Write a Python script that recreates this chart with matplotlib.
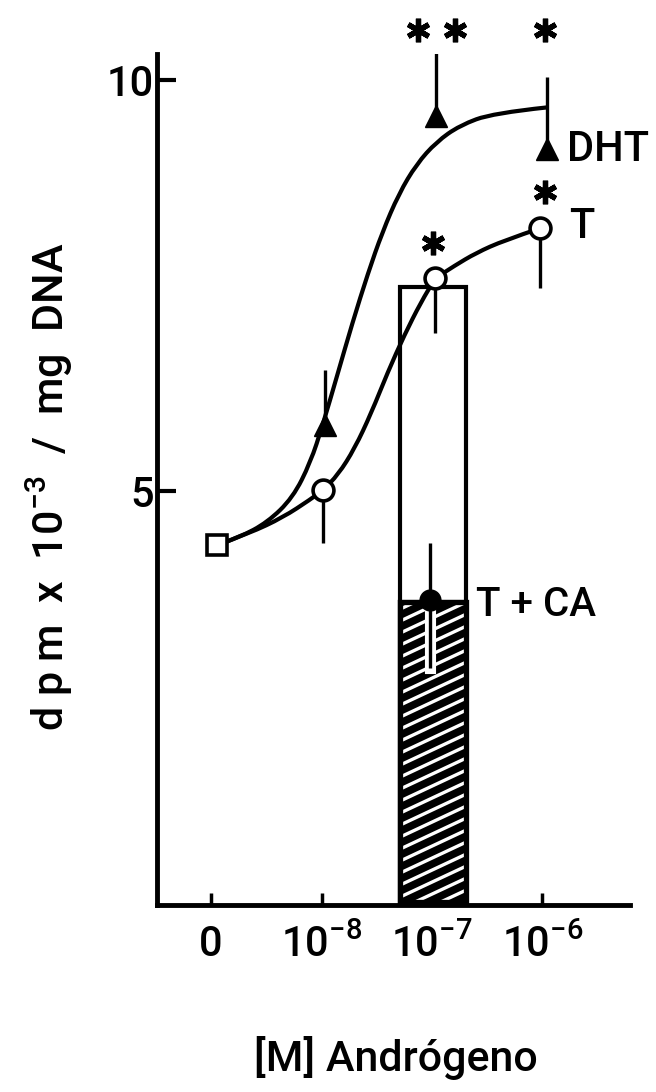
import numpy as np
import matplotlib
matplotlib.use("Agg")
import matplotlib.pyplot as plt
from matplotlib.lines import Line2D
from matplotlib.path import Path
from matplotlib.patches import PathPatch

plt.rcParams['font.family'] = ['Roboto', 'DejaVu Sans']
plt.rcParams['font.weight'] = 'medium'
plt.rcParams['mathtext.default'] = 'regular'

# ---- data ----
dose_ticks = [0, 1, 2, 3]
dose_labels = ['0', '$10^{-8}$', '$10^{-7}$', '$10^{-6}$']

ctrl_x = 0.05
ctrl_y = 4.34

t_x = [1.01, 2.03, 2.98]
t_y = [5.01, 7.59, 8.20]
t_err = [0.64, 0.67, 0.73]

dht_x = [1.03, 2.04, 3.04]
dht_y = [5.80, 9.56, 9.16]
dht_err = [0.67, 0.85, 0.88]

ca_x = 1.98
ca_y = 3.67
ca_err_lo = 0.82
ca_err_hi = 0.70

bar_x = 2.01
bar_width = 0.6
bar_t = 7.48
bar_ca = 3.65

# fitted curves
dht_curve_x = [0.05, 0.26, 0.51, 0.74, 0.90, 1.01, 1.14, 1.28, 1.42,
               1.55, 1.70, 1.86, 2.04, 2.25, 2.55, 3.04]
dht_curve_y = [4.34, 4.44, 4.62, 4.92, 5.35, 5.80, 6.40, 7.05, 7.65,
               8.15, 8.62, 8.98, 9.25, 9.45, 9.60, 9.67]
t_curve_x = [0.05, 0.35, 0.65, 0.90, 1.01, 1.15, 1.30, 1.45, 1.60,
             1.75, 1.90, 2.03, 2.20, 2.40, 2.65, 2.98]
t_curve_y = [4.34, 4.49, 4.68, 4.90, 5.01, 5.20, 5.52, 5.95, 6.45,
             6.90, 7.30, 7.59, 7.74, 7.90, 8.05, 8.20]

# significance stars (x, y)
star_x = [1.87, 2.21, 3.02, 2.01, 3.02]
star_y = [10.61, 10.61, 10.61, 8.02, 8.64]


def smooth_path(xs, ys):
    # quadratic bezier through midpoints, points act as control points
    pts = np.column_stack([xs, ys])
    verts = [pts[0]]
    codes = [Path.MOVETO]
    for i in range(1, len(pts) - 1):
        mid = (pts[i] + pts[i + 1]) / 2
        if i == len(pts) - 2:
            mid = pts[i + 1]
        verts += [pts[i], mid]
        codes += [Path.CURVE3, Path.CURVE3]
    return Path(verts, codes)


# ---- figure ----
W, H = 656, 1092
fig = plt.figure(figsize=(W / 100, H / 100), dpi=100)
ax = fig.add_axes([157 / W, 1 - 905 / H, (630 - 157) / W, (905 - 54) / H])
ax.set_xlim(-0.489, 3.792)
ax.set_ylim(-0.036, 10.32)

for s in ['top', 'right']:
    ax.spines[s].set_visible(False)
for s in ['left', 'bottom']:
    ax.spines[s].set_linewidth(3.5)

ax.set_yticks([5, 10])
ax.set_yticklabels(['5', '10'])
ax.set_xticks(dose_ticks)
ax.set_xticklabels(dose_labels)
ax.tick_params(axis='y', direction='in', length=14, width=3, pad=2, labelsize=30)
ax.tick_params(axis='x', direction='in', length=9, width=2.5, pad=14, labelsize=30)

# open bar (T) and hatched bar (T + CA)
ax.bar(bar_x, bar_t, width=bar_width, facecolor='white', edgecolor='black',
       linewidth=3, zorder=1)
hb = ax.bar(bar_x, bar_ca, width=bar_width, facecolor='black', edgecolor='black',
            linewidth=3, zorder=2)[0]
x0, x1 = bar_x - bar_width / 2, bar_x + bar_width / 2
slope = 0.63
for b in np.arange(-slope * bar_width, bar_ca + 0.2, 0.146):
    ln = Line2D([x0, x1], [b, b + slope * bar_width], color='white', lw=2.4,
                zorder=2.5)
    ax.add_line(ln)
    ln.set_clip_path(hb)
ax.bar(bar_x, bar_ca, width=bar_width, facecolor='none', edgecolor='black',
       linewidth=3.8, zorder=3)

# curves
for cx, cy in [(dht_curve_x, dht_curve_y), (t_curve_x, t_curve_y)]:
    ax.add_patch(PathPatch(smooth_path(cx, cy), facecolor='none',
                           edgecolor='black', lw=3, zorder=4))

# error bars
ax.errorbar(dht_x, dht_y, yerr=[np.zeros(3), dht_err], fmt='none', ecolor='black',
            elinewidth=2.4, capsize=0, zorder=5)
ax.errorbar(t_x, t_y, yerr=[t_err, np.zeros(3)], fmt='none', ecolor='black',
            elinewidth=2.4, capsize=0, zorder=5)
ax.plot([ca_x, ca_x], [ca_y - ca_err_lo, ca_y], color='white', lw=8, zorder=5)
ax.errorbar([ca_x], [ca_y], yerr=[[ca_err_lo], [ca_err_hi]], fmt='none',
            ecolor='black', elinewidth=2.4, capsize=0, zorder=6)

# markers
ax.plot(dht_x, dht_y, '^', color='black', ms=16, zorder=7)
ax.plot(t_x, t_y, 'o', mfc='white', mec='black', mew=2.6, ms=15, zorder=7)
ax.plot([ctrl_x], [ctrl_y], 's', mfc='white', mec='black', mew=2.6, ms=14, zorder=7)
ax.plot([ca_x], [ca_y], 'o', color='black', ms=15, zorder=7)

ax.plot(star_x, star_y, linestyle='none', marker=(6, 2, 0), color='black',
        ms=17, mew=3.8, clip_on=False, zorder=8)

# labels
ax.text(3.22, dht_y[2], 'DHT', fontsize=30, ha='left', va='center')
ax.text(3.24, t_y[2] + 0.02, 'T', fontsize=30, ha='left', va='center')
ax.text(2.40, ca_y - 0.05, 'T + CA', fontsize=29, ha='left', va='center')

fig.text(50 / W, 1 - 487 / H, 'd p m  x  10$^{-3}$  /  mg  DNA', rotation=90,
         fontsize=31, ha='center', va='center')
fig.text(396 / W, 1 - 1058 / H, '[M] Andrógeno', fontsize=31, ha='center',
         va='center')

fig.savefig('out.png', dpi=100)
